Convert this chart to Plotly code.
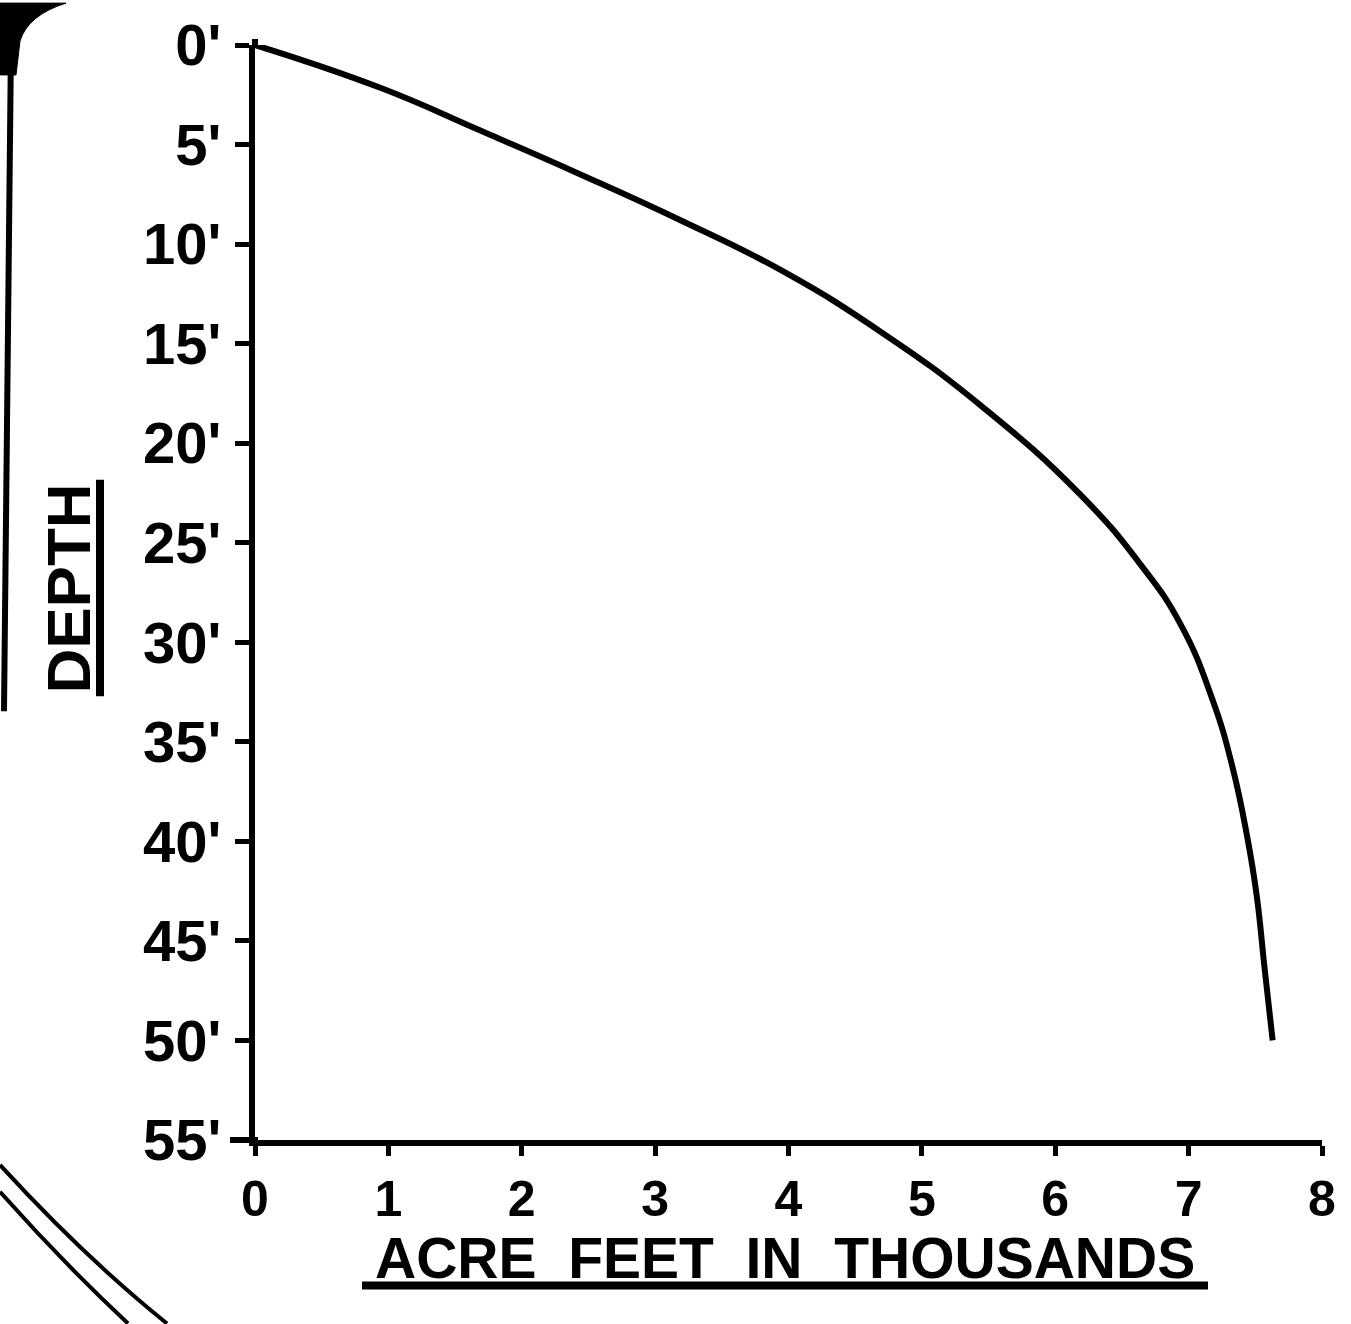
import plotly.graph_objects as go

# Data (acre feet in thousands vs depth in feet)
acre_feet_thousands = [0.0, 0.94, 1.69, 2.44, 3.19, 3.94, 4.69, 5.44, 6.19, 6.64, 6.94, 7.18, 7.33, 7.44, 7.51, 7.57, 7.63]
depth_ft = [0.0, 2.15, 4.3, 6.5, 8.8, 11.3, 14.4, 18.1, 22.6, 26.1, 29.1, 32.9, 36.3, 39.8, 42.7, 46.4, 50.0]

x_tick_vals = [0, 1, 2, 3, 4, 5, 6, 7, 8]
x_tick_text = ["0", "1", "2", "3", "4", "5", "6", "7", "8"]
y_tick_vals = [0, 5, 10, 15, 20, 25, 30, 35, 40, 45, 50, 55]
y_tick_text = ["0'", "5'", "10'", "15'", "20'", "25'", "30'", "35'", "40'", "45'", "50'", "55'"]

W, H = 1351, 1324
L, R, T, B = 255, 1322, 42, 1140  # plot area in pixels


def px(xp):
    return (xp - L) / (R - L)


def py(yp):
    return (B - yp) / (B - T)


FONT = "Liberation Sans"

fig = go.Figure()
fig.add_trace(go.Scatter(
    x=acre_feet_thousands, y=depth_ft, mode="lines",
    line=dict(color="black", width=6, shape="spline", smoothing=1.3),
    hoverinfo="skip", showlegend=False,
))

fig.update_xaxes(
    range=[0, 8], tickvals=x_tick_vals, ticktext=x_tick_text,
    showline=True, linecolor="black", linewidth=6,
    ticks="outside", ticklen=10, tickwidth=5, tickcolor="black",
    showgrid=False, zeroline=False, ticklabelstandoff=0,
    tickfont=dict(family=FONT, size=50, color="black", weight="bold"),
)
fig.update_yaxes(
    range=[55, 0], tickvals=y_tick_vals, ticktext=y_tick_text,
    showline=True, linecolor="black", linewidth=6,
    ticks="outside", ticklen=14, tickwidth=5, tickcolor="black",
    showgrid=False, zeroline=False, ticklabelstandoff=2,
    tickfont=dict(family=FONT, size=58, color="black", weight="bold"),
)

annotations = [
    dict(text="ACRE  FEET  IN  THOUSANDS", x=px(785), y=py(1258), xref="paper", yref="paper",
         showarrow=False, xanchor="center", yanchor="middle",
         font=dict(family=FONT, size=57, color="black", weight="bold")),
    dict(text="DEPTH", x=px(69), y=py(587), xref="paper", yref="paper",
         showarrow=False, xanchor="center", yanchor="middle", textangle=-90,
         font=dict(family=FONT, size=62, color="black", weight="bold")),
]

shapes = [
    # underlines of axis titles
    dict(type="line", xref="paper", yref="paper", x0=px(362), x1=px(1208), y0=py(1286), y1=py(1286),
         line=dict(color="black", width=8)),
    dict(type="line", xref="paper", yref="paper", x0=px(100), x1=px(100), y0=py(478), y1=py(695),
         line=dict(color="black", width=8)),
    # axis overhangs
    dict(type="line", xref="paper", yref="paper", x0=px(230), x1=px(258), y0=py(1140), y1=py(1140),
         line=dict(color="black", width=6)),
    dict(type="line", xref="paper", yref="paper", x0=px(255), x1=px(255), y0=py(36), y1=py(45),
         line=dict(color="black", width=6)),
    # scan border decorations on the left
    dict(type="path", xref="paper", yref="paper",
         path=f"M {px(0)},{py(0)} L {px(66)},{py(0)} Q {px(28)},{py(12)} {px(20)},{py(38)} L {px(16)},{py(72)} L {px(0)},{py(72)} Z",
         fillcolor="black", line=dict(color="black", width=1)),
    dict(type="path", xref="paper", yref="paper",
         path=f"M {px(11)},{py(40)} L {px(4)},{py(710)}",
         line=dict(color="black", width=6)),
    dict(type="path", xref="paper", yref="paper",
         path=f"M {px(0)},{py(1165)} Q {px(85)},{py(1258)} {px(167)},{py(1324)}",
         line=dict(color="black", width=4)),
    dict(type="path", xref="paper", yref="paper",
         path=f"M {px(0)},{py(1192)} Q {px(62)},{py(1262)} {px(128)},{py(1324)}",
         line=dict(color="black", width=4)),
]

fig.update_layout(
    width=W, height=H,
    margin=dict(l=L, r=W - R, t=T, b=H - B, pad=0),
    paper_bgcolor="white", plot_bgcolor="white",
    annotations=annotations, shapes=shapes,
    showlegend=False,
)

fig.write_html("out.html", config={"displayModeBar": False},
               post_script="document.body.style.margin='0';")
